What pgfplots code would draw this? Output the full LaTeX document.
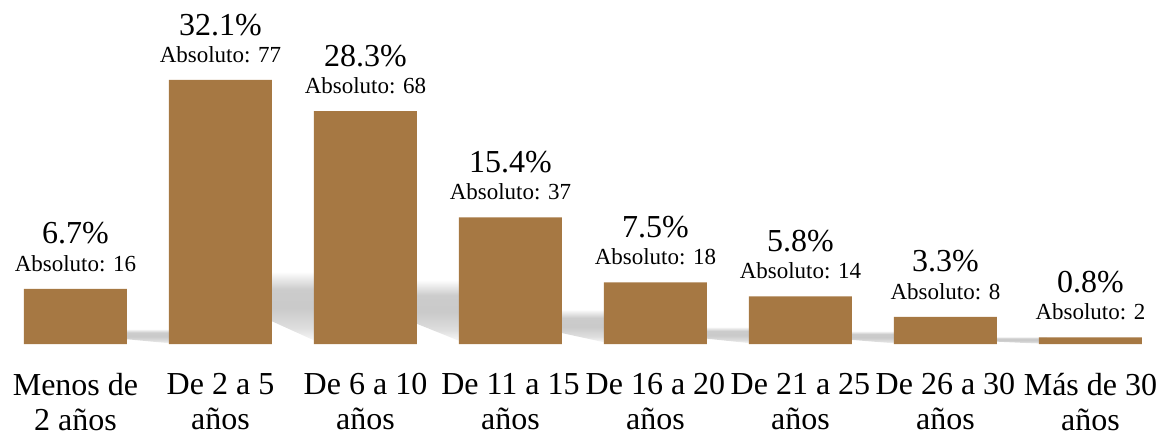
\documentclass[border=0pt]{standalone}
\usepackage{pgfplots}
\pgfplotsset{compat=1.18}
\usepackage{pgfplotstable}
\usepackage{fontspec}
\setmainfont{Liberation Serif}
\definecolor{barbrown}{RGB}{166,120,67}
\pgfdeclareverticalshading{shadowsh}{100bp}{color(0bp)=(white); color(25bp)=(white); color(36bp)=(black!13); color(50bp)=(black!21); color(63bp)=(black!20); color(75bp)=(white); color(100bp)=(white)}
\tikzset{shadowfill/.style={shading=shadowsh, draw=none}}
\pgfplotstableread{
x pct abs
0 6.7 16
1 32.1 77
2 28.3 68
3 15.4 37
4 7.5 18
5 5.8 14
6 3.3 8
7 0.8 2
}\datatable
\begin{document}
\begin{tikzpicture}
\useasboundingbox (-3bp,-93bp) rectangle (1163bp,344bp);
\begin{axis}[
  scale only axis,
  width=1160bp, height=329bp,
  xmin=-0.5, xmax=7.5, ymin=0, ymax=40,
  axis line style={draw=none},
  ytick=\empty,
  xtick=data,
  xticklabels={{Menos de\\2 años},{De 2 a 5\\años},{De 6 a 10\\años},{De 11 a 15\\años},{De 16 a 20\\años},{De 21 a 25\\años},{De 26 a 30\\años},{Más de 30\\años}},
  xticklabel style={align=center, font=\fontsize{32bp}{35bp}\selectfont, yshift=-26bp},
  major tick length=0pt,
  ybar, bar width=103bp,
  /pgf/number format/assume math mode=true,
  visualization depends on={\thisrow{abs} \as \absval},
  nodes near coords={\fontsize{32bp}{32bp}\selectfont\pgfmathprintnumber[fixed,fixed zerofill,precision=1]{\pgfplotspointmeta}\%\\[10bp]\fontsize{23bp}{23bp}\selectfont Absoluto: \pgfmathprintnumber[fixed,precision=0]{\absval}},
  nodes near coords align={vertical},
  every node near coord/.append style={align=center, text=black, inner sep=0pt, yshift=17bp},
  point meta=explicit,
]
\shade[shadowfill] (axis cs:0.3,0.67) -- (axis cs:0.3,1.84) -- (axis cs:0.7,1.84) -- (axis cs:0.7,0) -- cycle;
\shade[shadowfill] (axis cs:1.3,3.2) -- (axis cs:1.3,8.8) -- (axis cs:1.7,8.8) -- (axis cs:1.7,0) -- cycle;
\shade[shadowfill] (axis cs:2.3,2.84) -- (axis cs:2.3,7.8) -- (axis cs:2.7,7.8) -- (axis cs:2.7,0) -- cycle;
\shade[shadowfill] (axis cs:3.3,1.54) -- (axis cs:3.3,4.2) -- (axis cs:3.7,4.2) -- (axis cs:3.7,0) -- cycle;
\shade[shadowfill] (axis cs:4.3,0.75) -- (axis cs:4.3,2.1) -- (axis cs:4.7,2.1) -- (axis cs:4.7,0) -- cycle;
\shade[shadowfill] (axis cs:5.3,0.58) -- (axis cs:5.3,1.6) -- (axis cs:5.7,1.6) -- (axis cs:5.7,0) -- cycle;
\shade[shadowfill] (axis cs:6.3,0.33) -- (axis cs:6.3,0.9) -- (axis cs:6.7,0.9) -- (axis cs:6.7,0) -- cycle;
\addplot[fill=barbrown, draw=none] table[x=x, y=pct, meta=pct] {\datatable};
\end{axis}
\end{tikzpicture}
\end{document}
